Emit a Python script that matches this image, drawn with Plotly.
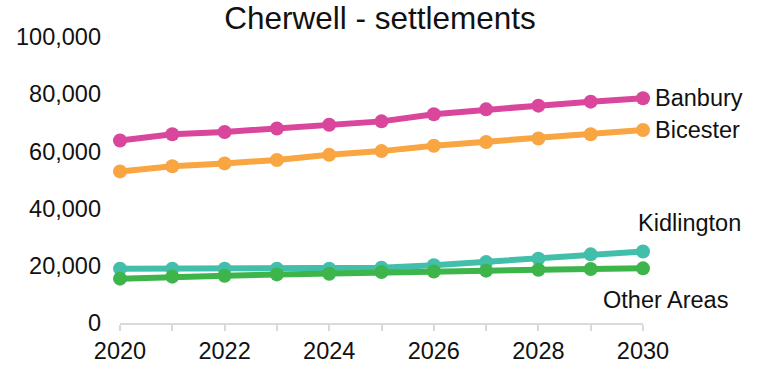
import plotly.graph_objects as go

years = list(range(2020, 2031))
banbury = [63800, 66000, 66800, 68000, 69300, 70500, 73000, 74700, 76000, 77400, 78600]
bicester = [53000, 54800, 55800, 57000, 58800, 60100, 62000, 63300, 64500, 66000, 67500]
kidlington = [19000, 19000, 19000, 19000, 19000, 19300, 20200, 21300, 22500, 24000, 25000]
other_areas = [15500, 16200, 16500, 17000, 17200, 17800, 18000, 18300, 18600, 18900, 19100]

series = [
    ("Banbury", banbury, "#D9469B"),
    ("Bicester", bicester, "#F9A541"),
    ("Kidlington", kidlington, "#41BFAB"),
    ("Other Areas", other_areas, "#3DB54B"),
]

# label offsets (pixels) from each series' final point
label_pos = {
    "Banbury": dict(xshift=10, yshift=0, xanchor="left"),
    "Bicester": dict(xshift=10, yshift=0, xanchor="left"),
    "Kidlington": dict(xshift=46, yshift=29, xanchor="center"),
    "Other Areas": dict(xshift=22, yshift=-32, xanchor="center"),
}

FONT = "Arial, 'Liberation Sans', sans-serif"
TEXT = "#111111"
SIZE = 23.5

fig = go.Figure()
for name, vals, col in series:
    fig.add_trace(go.Scatter(
        x=years, y=vals, name=name, mode="lines+markers",
        line=dict(color=col, width=6),
        marker=dict(color=col, size=14),
        cliponaxis=False, showlegend=False,
    ))
    fig.add_annotation(
        x=years[-1], y=vals[-1], xref="x", yref="y", text=name,
        showarrow=False, yanchor="middle",
        font=dict(family=FONT, size=SIZE, color=TEXT),
        **label_pos[name],
    )

fig.update_layout(
    width=760, height=365,
    margin=dict(l=120, r=117, t=37, b=42),
    paper_bgcolor="white", plot_bgcolor="white",
    title=dict(text="Cherwell - settlements", x=0.5, xanchor="center",
               y=0.95, yanchor="middle",
               font=dict(family=FONT, size=31.5, color=TEXT)),
    font=dict(family=FONT, size=SIZE, color=TEXT),
)
fig.update_xaxes(
    range=[2020, 2030], tickvals=list(range(2020, 2031)),
    ticktext=[str(y) if y % 2 == 0 else "" for y in years],
    showgrid=False, zeroline=False, automargin=False,
    showline=True, linecolor="#D9D9D9", linewidth=2,
    ticks="outside", ticklen=6, tickcolor="#D9D9D9", tickwidth=2,
    tickfont=dict(size=SIZE, color=TEXT),
)
fig.update_yaxes(
    range=[0, 100000], tickvals=[0, 20000, 40000, 60000, 80000, 100000],
    tickformat=",d", showgrid=False, zeroline=False, showline=False,
    ticks="", ticklabelstandoff=18, automargin=False,
    tickfont=dict(size=SIZE, color=TEXT),
)

fig.write_html("out.html")
